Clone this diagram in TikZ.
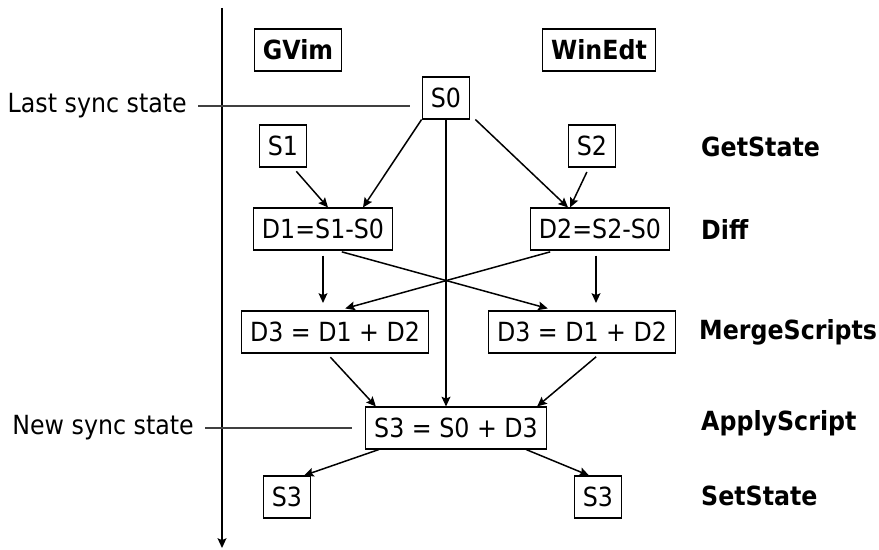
\documentclass[tikz,border=0pt]{standalone}
\usepackage{fontspec}
\setmainfont{DejaVu Sans}[FakeStretch=0.9]
\usepackage{tikz}
\usetikzlibrary{arrows.meta}

\begin{document}
\begin{tikzpicture}[
    font=\fontsize{15}{18}\selectfont,
    box/.style={draw, line width=0.6pt, inner xsep=5pt, minimum height=0.84cm},
    tool/.style={box, font=\fontsize{15}{18}\selectfont\bfseries},
    stage/.style={anchor=west, font=\fontsize{15}{18}\selectfont\bfseries},
    arr/.style={line width=0.85pt, -{Stealth[length=5.5pt,width=5pt,inset=1pt]}},
    sync/.style={line width=0.6pt, black!75}
  ]
  \useasboundingbox (0,0) rectangle (17.58,-11);
  % time axis
  \coordinate (top) at (4.44,-0.16);
  \coordinate (bot) at (4.44,-10.96);
  \draw[arr, line width=1pt] (top) -- (bot);

  \node[tool] (gvim) at (5.96,-1.0) {GVim};
  \node[tool] (winedt) at (11.98,-1.0) {WinEdt};

  \node[box] (s0) at (8.92,-1.96) {S0};
  \node[box] (s1) at (5.66,-2.92) {S1};
  \node[box] (s2) at (11.84,-2.92) {S2};
  \node[box] (d1) at (6.46,-4.58) {D1=S1-S0};
  \node[box] (d2) at (12.0,-4.58) {D2=S2-S0};
  \node[box] (m1) at (6.7,-6.64) {D3 = D1 + D2};
  \node[box] (m2) at (11.64,-6.64) {D3 = D1 + D2};
  \node[box] (s3) at (9.12,-8.56) {S3 = S0 + D3};
  \node[box] (out1) at (5.74,-9.94) {S3};
  \node[box] (out2) at (11.96,-9.94) {S3};

  \node[stage] (getstate) at (13.9,-2.94) {GetState};
  \node[stage] (diff) at (13.9,-4.58) {Diff};
  \node[stage] (merge) at (13.86,-6.64) {MergeScripts};
  \node[stage] (apply) at (13.9,-8.46) {ApplyScript};
  \node[stage] (setstate) at (13.9,-9.92) {SetState};

  \node[anchor=east] (last) at (3.86,-2.12) {Last sync state};
  \node[anchor=east] (new) at (4.0,-8.56) {New sync state};
  \draw[sync, shorten <=3pt, shorten >=0.24cm] (last.east) -- (last.east -| s0.west);
  \draw[sync, shorten <=3pt, shorten >=0.26cm] (new.east) -- (s3.west);

  % states and diffs
  \draw[arr] (s0.south west) -- ([xshift=0.8cm]d1.north);
  \draw[arr, shorten <=0.1cm] ([xshift=0.2cm]s1.south) -- ([xshift=0.1cm]d1.north);
  \draw[arr] ([xshift=0.1cm]s0.south east) -- ([xshift=-0.64cm]d2.north);
  \draw[arr, shorten <=0.1cm] ([xshift=-0.06cm]s2.south) -- ([xshift=-0.6cm]d2.north);
  \draw[arr] (s0.south) -- (s0.south |- s3.north);

  % merging
  \draw[arr, shorten <=0.1cm, shorten >=0.15cm] (d1.south) -- (d1.south |- m1.north);
  \draw[arr, shorten <=0.1cm, shorten >=0.15cm] ([xshift=0.28cm]d1.south) -- ([xshift=-0.54cm]m2.north);
  \draw[arr, shorten <=0.1cm, shorten >=0.15cm] ([xshift=-0.9cm]d2.south) -- ([xshift=0.06cm]m1.north);
  \draw[arr, shorten <=0.1cm, shorten >=0.15cm] ([xshift=-0.08cm]d2.south) -- ([xshift=-0.08cm]d2.south |- m2.north);

  % applying
  \draw[arr, shorten <=0.1cm] ([xshift=-0.16cm]m1.south) -- ([xshift=0.22cm]s3.north west);
  \draw[arr, shorten <=0.1cm] ([xshift=0.36cm]m2.south) -- ([xshift=-0.2cm]s3.north east);
  \draw[arr] ([xshift=0.28cm]s3.south west) -- ([xshift=0.34cm]out1.north);
  \draw[arr] ([xshift=-0.42cm]s3.south east) -- ([xshift=-0.18cm]out2.north);
\end{tikzpicture}
\end{document}
